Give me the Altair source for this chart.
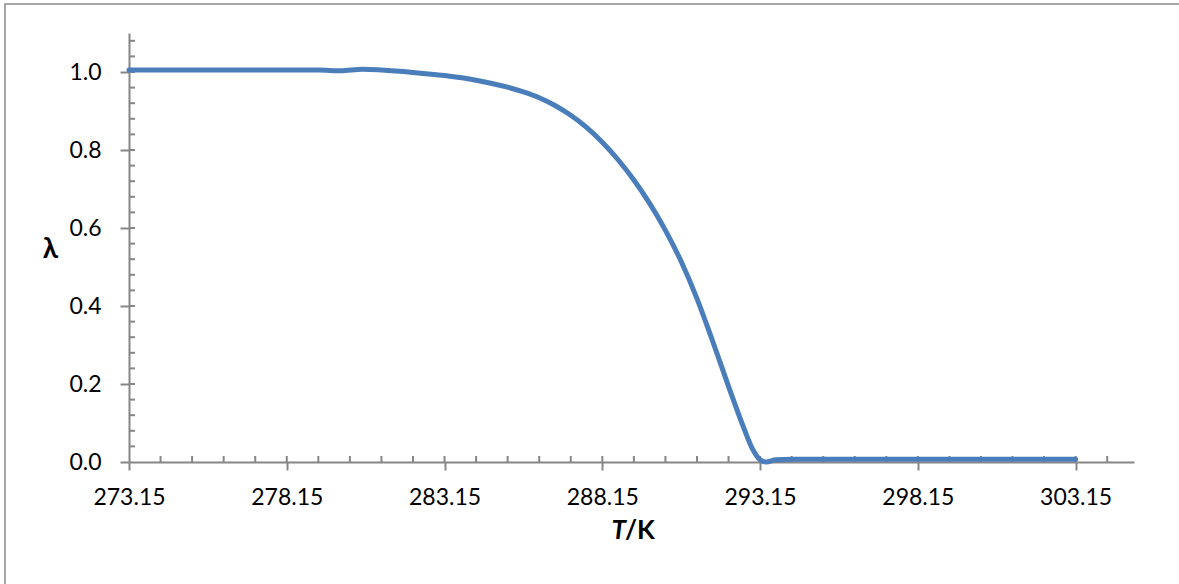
import altair as alt
import pandas as pd

# Temperature (K) and the corresponding λ along the curve
temperature_k = [
    273.15, 274.15, 275.15, 276.15, 277.15, 278.15, 279.15, 279.85, 280.55,
    281.15, 282.15, 283.15, 284.15, 285.15, 285.65, 286.15, 286.65, 287.15,
    287.65, 288.15, 288.65, 289.15, 289.65, 290.15, 290.65, 291.15, 291.65,
    292.15, 292.65, 292.90, 293.15, 293.35, 293.65, 294.15, 295.15, 296.15,
    297.15, 298.15, 299.15, 300.15, 301.15, 302.15, 303.15,
]
lambda_values = [
    1.005, 1.005, 1.005, 1.005, 1.005, 1.005, 1.005, 1.003, 1.007,
    1.005, 0.999, 0.991, 0.979, 0.961, 0.949, 0.934, 0.914, 0.889,
    0.858, 0.820, 0.775, 0.723, 0.663, 0.594, 0.514, 0.419, 0.309,
    0.194, 0.084, 0.035, 0.006, 0.000, 0.006, 0.007, 0.007, 0.007,
    0.007, 0.007, 0.007, 0.007, 0.007, 0.007, 0.007,
]

x_major = [273.15, 278.15, 283.15, 288.15, 293.15, 298.15, 303.15]
x_minor = [274.15, 275.15, 276.15, 277.15, 278.15, 279.15, 280.15, 281.15,
           282.15, 283.15, 284.15, 285.15, 286.15, 287.15, 288.15, 289.15,
           290.15, 291.15, 292.15, 293.15, 294.15, 295.15, 296.15, 297.15,
           298.15, 299.15, 300.15, 301.15, 302.15, 303.15, 304.15]
y_major = [0.0, 0.2, 0.4, 0.6, 0.8, 1.0]
y_minor = [0.04, 0.08, 0.12, 0.16, 0.20, 0.24, 0.28, 0.32, 0.36, 0.40,
           0.44, 0.48, 0.52, 0.56, 0.60, 0.64, 0.68, 0.72, 0.76, 0.80,
           0.84, 0.88, 0.92, 0.96, 1.00, 1.04, 1.08]

W, H = 1005, 429
PAD = {"left": 129, "top": 33, "right": 1179 - 129 - W, "bottom": 584 - 33 - H}
AXIS_GRAY = "#868686"
FONT = "Lato, DejaVu Sans"

x_scale = alt.Scale(domain=[273.15, 305.0], nice=False, zero=False)
y_scale = alt.Scale(domain=[0.0, 1.1], nice=False, zero=True)

x_axis = alt.Axis(values=x_major, format=".2f", title=None, tickSize=8,
                  labelPadding=16, labelFlush=False, labelOverlap=False)
y_axis = alt.Axis(
    values=y_major, format=".1f", title="λ", tickSize=9, labelPadding=19,
    labelFlush=False, labelOverlap=False,
    titleAngle=0, titleX=50 - PAD["left"], titleY=249 - PAD["top"],
    titleAlign="center", titleBaseline="middle",
)

curve = pd.DataFrame({"T": temperature_k, "lam": lambda_values})
one = pd.DataFrame({"k": [0]})

# outer chart frame
frame = alt.Chart(one).mark_rect(fill=None, stroke="#8a8a8a", strokeWidth=1.5).encode(
    x=alt.value(5 - PAD["left"]), x2=alt.value(1179 - PAD["left"] + 20),
    y=alt.value(4 - PAD["top"]), y2=alt.value(620),
)

# inward tick marks on both axes
x_in = alt.Chart(pd.DataFrame({"T": x_minor})).mark_rule(
    color=AXIS_GRAY, strokeWidth=2
).encode(x=alt.X("T:Q", scale=x_scale, axis=x_axis), y=alt.value(H), y2=alt.value(H - 6))

y_in = alt.Chart(pd.DataFrame({"lam": y_minor})).mark_rule(
    color=AXIS_GRAY, strokeWidth=2
).encode(y=alt.Y("lam:Q", scale=y_scale, axis=y_axis), x=alt.value(0), x2=alt.value(6))

line = alt.Chart(curve).mark_line(
    color="#4A7EBB", strokeWidth=5, interpolate="monotone", strokeCap="round"
).encode(
    x=alt.X("T:Q", scale=x_scale, axis=x_axis),
    y=alt.Y("lam:Q", scale=y_scale, axis=y_axis),
)

# x-axis title: italic T followed by upright /K
t_text = alt.Chart(one).mark_text(
    text="T", font=FONT, fontSize=26, fontWeight="bold", fontStyle="italic",
    align="right", baseline="middle", color="black",
).encode(x=alt.value(626 - PAD["left"]), y=alt.value(531 - PAD["top"]))

k_text = alt.Chart(one).mark_text(
    text="/K", font=FONT, fontSize=26, fontWeight="bold",
    align="left", baseline="middle", color="black",
).encode(x=alt.value(625 - PAD["left"]), y=alt.value(531 - PAD["top"]))

chart = alt.layer(frame, x_in, y_in, line, t_text, k_text).properties(
    width=W, height=H, autosize=alt.AutoSizeParams(type="none"), padding=PAD,
    background="white",
).configure_view(stroke=None).configure_axis(
    grid=False, domainColor=AXIS_GRAY, domainWidth=2, tickColor=AXIS_GRAY,
    tickWidth=2, labelFont=FONT, labelFontSize=23, labelColor="black",
    titleFont=FONT, titleFontSize=28, titleFontWeight="bold", titleColor="black",
)

chart.save("out.html", embed_options={"renderer": "svg", "actions": False})
